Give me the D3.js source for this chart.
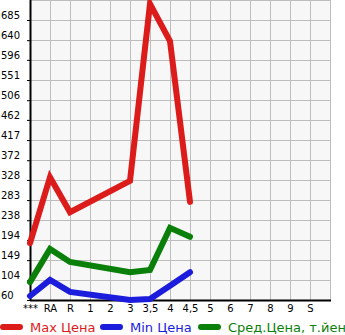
<!DOCTYPE html>
<html>
<head>
<meta charset="utf-8">
<script src="https://cdn.jsdelivr.net/npm/d3@7"></script>
<style>
  body { margin: 0; background: #fff; }
  svg { display: block; font-family: "DejaVu Sans", sans-serif; }
</style>
</head>
<body>
<div id="chart"></div>
<script>
// categories on the x axis
var categories = ["***", "RA", "R", "1", "2", "3", "3,5", "4", "4,5", "5", "6", "7", "8", "9", "S"];
// y axis tick labels
var yTicks = [60, 104, 149, 194, 238, 283, 328, 372, 417, 462, 506, 551, 596, 640, 685];

// series values (null = no data)
var maxPrice = [187, 334, 256, null, null, 326, 721, 638, 279, null, null, null, null, null, null];
var minPrice = [69, 105, 78, null, null, 60, 62, 92, 122, null, null, null, null, null, null];
var avgPrice = [100, 174, 145, null, null, 122, 127, 221, 201, null, null, null, null, null, null];

var seriesNames = ["Max Цена", "Min Цена", "Сред.Цена, т.йен"];
var seriesColors = ["#dc1b1b", "#1c1cdc", "#0a800a"];

var W = 345, H = 335;
var plotLeft = 30, plotRight = 330, plotTop = 0, plotBottom = 300;

var svg = d3.select("#chart").append("svg")
  .attr("width", W)
  .attr("height", H);

var x = d3.scalePoint()
  .domain(categories)
  .range([plotLeft, plotRight - 20]);

var y = d3.scaleLinear()
  .domain([60, 60 + (685 - 60) / 14 * 15])
  .range([plotBottom, plotTop]);

// plot background
svg.append("rect")
  .attr("x", plotLeft).attr("y", plotTop)
  .attr("width", plotRight - plotLeft).attr("height", plotBottom - plotTop)
  .attr("fill", "#f7f7f7");

// grid
var grid = svg.append("g").attr("stroke", "#bdbdbd").attr("stroke-width", 1);
grid.selectAll(".vg")
  .data(categories.slice(1).map(function (d) { return x(d); }).concat([plotRight]))
  .enter().append("line")
  .attr("x1", function (d) { return d + 0.5; })
  .attr("x2", function (d) { return d + 0.5; })
  .attr("y1", plotTop).attr("y2", plotBottom);
grid.selectAll(".hg")
  .data(yTicks.slice(1).map(function (d) { return Math.round(y(d)); }).concat([plotTop]))
  .enter().append("line")
  .attr("y1", function (d) { return d + 0.5; })
  .attr("y2", function (d) { return d + 0.5; })
  .attr("x1", plotLeft).attr("x2", plotRight);

// y axis
var yAxis = svg.append("g")
  .attr("transform", "translate(" + (plotLeft + 1) + ",0)")
  .call(d3.axisLeft(y).tickValues(yTicks).tickSize(4).tickSizeOuter(0).tickFormat(d3.format("d")));
yAxis.select(".domain").remove();
yAxis.selectAll(".tick line").attr("stroke", "#000");
yAxis.selectAll(".tick text")
  .attr("x", -30)
  .attr("dy", "-0.15em")
  .attr("text-anchor", "start")
  .attr("font-size", 10)
  .attr("font-family", "DejaVu Sans, sans-serif")
  .attr("fill", "#000");

// x axis
var xAxis = svg.append("g")
  .attr("transform", "translate(0," + plotBottom + ")")
  .call(d3.axisBottom(x).tickSize(0).tickSizeOuter(0));
xAxis.select(".domain").remove();
xAxis.selectAll(".tick text")
  .attr("dy", "0.9em")
  .attr("y", 3)
  .attr("font-size", 10)
  .attr("font-family", "DejaVu Sans, sans-serif")
  .attr("fill", "#000");

// axis lines
svg.append("line")
  .attr("x1", plotLeft + 0.5).attr("x2", plotLeft + 0.5)
  .attr("y1", plotTop).attr("y2", plotBottom + 1)
  .attr("stroke", "#000").attr("stroke-width", 2);
svg.append("line")
  .attr("x1", plotLeft).attr("x2", plotRight + 1)
  .attr("y1", plotBottom + 0.5).attr("y2", plotBottom + 0.5)
  .attr("stroke", "#000").attr("stroke-width", 2);

// lines
var line = d3.line()
  .x(function (d) { return x(d.cat); })
  .y(function (d) { return y(d.v); });

var allSeries = [maxPrice, minPrice, avgPrice];
[avgPrice, minPrice, maxPrice].forEach(function (s) {
  var i = allSeries.indexOf(s);
  var pts = categories.map(function (c, k) { return { cat: c, v: s[k] }; })
    .filter(function (d) { return d.v != null; });
  svg.append("path")
    .datum(pts)
    .attr("d", line)
    .attr("fill", "none")
    .attr("stroke", seriesColors[i])
    .attr("stroke-width", 6)
    .attr("stroke-linejoin", "miter")
    .attr("stroke-linecap", "round");
});

// legend
var legendX = [0, 100, 198];
var legend = svg.selectAll(".legend")
  .data(seriesNames)
  .enter().append("g")
  .attr("transform", function (d, i) { return "translate(" + legendX[i] + ",327)"; });
legend.append("line")
  .attr("x1", 3).attr("x2", 20)
  .attr("stroke", function (d, i) { return seriesColors[i]; })
  .attr("stroke-width", 6)
  .attr("stroke-linecap", "round");
legend.append("text")
  .attr("x", 30)
  .attr("dy", "0.35em")
  .attr("font-size", 13)
  .attr("fill", function (d, i) { return seriesColors[i]; })
  .text(function (d) { return d; });
</script>
</body>
</html>
